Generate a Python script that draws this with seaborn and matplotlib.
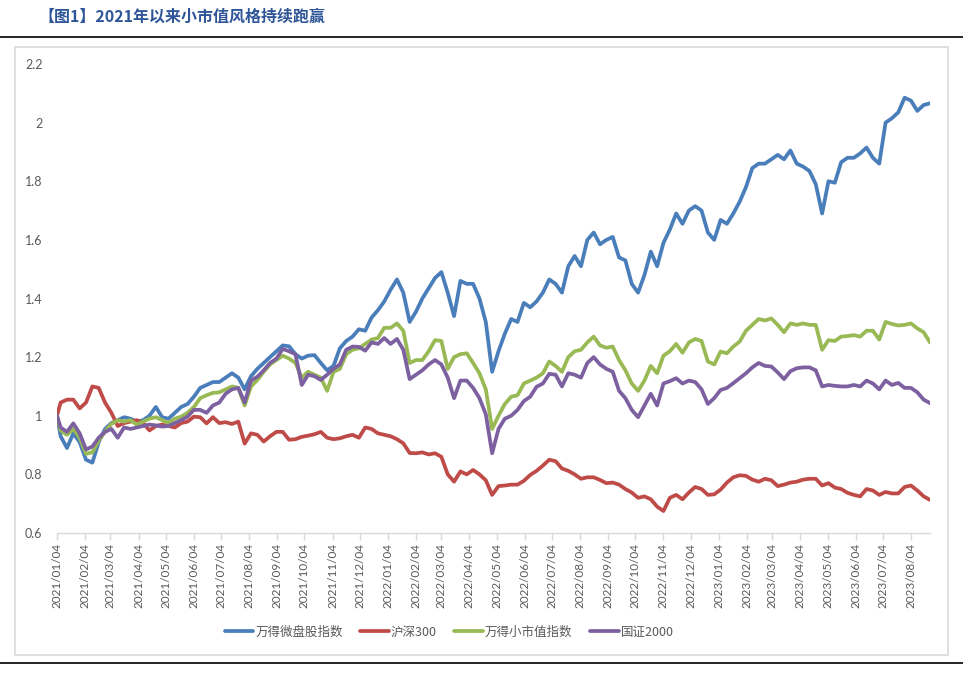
import numpy as np
import pandas as pd
import seaborn as sns
import matplotlib.pyplot as plt
import matplotlib.dates as mdates
from matplotlib.lines import Line2D
from matplotlib.patches import Rectangle
from matplotlib.ticker import FuncFormatter, MultipleLocator

# weekly closes (Fridays), normalised to 1 on 2021/01/04
start_date = pd.Timestamp("2021-01-04")
week_dates = pd.date_range("2021-01-08", "2023-08-25", freq="W-FRI")
dates = [start_date] + list(week_dates)

series_names = ["万得微盘股指数", "沪深300", "万得小市值指数", "国证2000"]
series_colors = ["#4A7EBB", "#BE4B48", "#98B954", "#7D60A0"]

weipan = [1.00,
          0.93, 0.89, 0.94, 0.91, 0.85, 0.84, 0.91, 0.955, 0.975, 0.985,
          0.995, 0.99, 0.98, 0.985, 1.0, 1.03, 0.995, 0.99, 1.01, 1.03,
          1.04, 1.065, 1.095, 1.105, 1.115, 1.115, 1.13, 1.145, 1.13, 1.09,
          1.135, 1.16, 1.18, 1.20, 1.22, 1.24, 1.237, 1.21, 1.195, 1.205,
          1.207, 1.18, 1.155, 1.17, 1.23, 1.255, 1.27, 1.295, 1.29, 1.335,
          1.36, 1.39, 1.43, 1.465, 1.42, 1.32, 1.355, 1.40, 1.435, 1.47,
          1.49, 1.42, 1.34, 1.46, 1.45, 1.45, 1.40, 1.32, 1.15, 1.22,
          1.28, 1.33, 1.32, 1.385, 1.37, 1.39, 1.42, 1.465, 1.45, 1.42,
          1.51, 1.545, 1.51, 1.60, 1.625, 1.585, 1.60, 1.61, 1.54, 1.53,
          1.45, 1.42, 1.48, 1.56, 1.51, 1.59, 1.635, 1.69, 1.655, 1.70,
          1.715, 1.70, 1.625, 1.60, 1.668, 1.655, 1.69, 1.73, 1.78, 1.845,
          1.86, 1.86, 1.875, 1.89, 1.875, 1.905, 1.86, 1.85, 1.835, 1.79,
          1.69, 1.80, 1.795, 1.865, 1.88, 1.88, 1.895, 1.915, 1.88, 1.86,
          2.00, 2.015, 2.035, 2.085, 2.075, 2.04, 2.06, 2.066]

hs300 = [1.00,
         1.045, 1.055, 1.055, 1.025, 1.045, 1.10, 1.095, 1.045, 1.01, 0.965,
         0.975, 0.98, 0.985, 0.975, 0.95, 0.965, 0.97, 0.965, 0.96, 0.975,
         0.98, 0.997, 0.995, 0.974, 0.995, 0.975, 0.978, 0.972, 0.98, 0.905,
         0.94, 0.935, 0.912, 0.93, 0.945, 0.945, 0.918, 0.92, 0.928, 0.932,
         0.937, 0.945, 0.925, 0.92, 0.923, 0.93, 0.935, 0.925, 0.96, 0.955,
         0.94, 0.935, 0.93, 0.92, 0.906, 0.873, 0.872, 0.875, 0.868, 0.872,
         0.86, 0.80, 0.775, 0.81, 0.80, 0.815, 0.80, 0.78, 0.73, 0.76,
         0.762, 0.765, 0.765, 0.778, 0.798, 0.812, 0.83, 0.85, 0.845, 0.82,
         0.812, 0.80, 0.785, 0.79, 0.79, 0.781, 0.77, 0.772, 0.765, 0.75,
         0.738, 0.72, 0.725, 0.715, 0.69, 0.675, 0.72, 0.73, 0.715, 0.738,
         0.757, 0.75, 0.73, 0.732, 0.748, 0.772, 0.79, 0.797, 0.795, 0.782,
         0.775, 0.785, 0.78, 0.76, 0.765, 0.772, 0.775, 0.782, 0.785, 0.785,
         0.762, 0.77, 0.755, 0.75, 0.737, 0.73, 0.725, 0.75, 0.745, 0.73,
         0.74, 0.735, 0.735, 0.757, 0.762, 0.745, 0.725, 0.713]

xiaoshizhi = [1.00,
              0.95, 0.935, 0.955, 0.925, 0.87, 0.875, 0.915, 0.946, 0.972, 0.985,
              0.98, 0.985, 0.97, 0.98, 0.99, 0.995, 0.985, 0.975, 0.99, 0.997,
              1.01, 1.03, 1.06, 1.07, 1.078, 1.08, 1.09, 1.10, 1.095, 1.035,
              1.10, 1.122, 1.15, 1.175, 1.19, 1.205, 1.195, 1.18, 1.13, 1.15,
              1.14, 1.13, 1.085, 1.15, 1.16, 1.21, 1.225, 1.23, 1.245, 1.26,
              1.265, 1.30, 1.30, 1.315, 1.29, 1.18, 1.19, 1.19, 1.22, 1.258,
              1.255, 1.16, 1.20, 1.21, 1.213, 1.18, 1.145, 1.09, 0.955, 1.00,
              1.04, 1.065, 1.07, 1.11, 1.12, 1.13, 1.145, 1.185, 1.17, 1.15,
              1.20, 1.22, 1.225, 1.25, 1.27, 1.24, 1.232, 1.236, 1.19, 1.155,
              1.11, 1.085, 1.12, 1.17, 1.145, 1.205, 1.22, 1.245, 1.215, 1.25,
              1.262, 1.255, 1.185, 1.175, 1.219, 1.213, 1.236, 1.253, 1.29, 1.31,
              1.33, 1.325, 1.332, 1.31, 1.285, 1.315, 1.31, 1.315, 1.31, 1.31,
              1.225, 1.258, 1.255, 1.27, 1.272, 1.275, 1.27, 1.29, 1.29, 1.26,
              1.32, 1.313, 1.308, 1.31, 1.315, 1.298, 1.285, 1.25]

gz2000 = [1.00,
          0.96, 0.945, 0.974, 0.94, 0.885, 0.895, 0.925, 0.945, 0.955, 0.925,
          0.96, 0.955, 0.96, 0.965, 0.97, 0.967, 0.963, 0.965, 0.975, 0.985,
          0.997, 1.02, 1.02, 1.01, 1.035, 1.045, 1.075, 1.09, 1.095, 1.045,
          1.12, 1.133, 1.155, 1.18, 1.195, 1.228, 1.22, 1.21, 1.105, 1.14,
          1.135, 1.122, 1.14, 1.16, 1.175, 1.225, 1.236, 1.235, 1.222, 1.25,
          1.245, 1.265, 1.245, 1.262, 1.225, 1.125, 1.14, 1.155, 1.175, 1.19,
          1.175, 1.13, 1.06, 1.12, 1.12, 1.095, 1.06, 1.005, 0.872, 0.955,
          0.99, 1.0, 1.02, 1.05, 1.065, 1.099, 1.11, 1.143, 1.14, 1.10,
          1.145, 1.14, 1.13, 1.18, 1.20, 1.175, 1.16, 1.15, 1.085, 1.06,
          1.02, 0.995, 1.035, 1.075, 1.035, 1.11, 1.118, 1.128, 1.11, 1.12,
          1.115, 1.09, 1.04, 1.06, 1.088, 1.095, 1.111, 1.128, 1.145, 1.165,
          1.18, 1.17, 1.168, 1.148, 1.125, 1.152, 1.162, 1.165, 1.165, 1.155,
          1.10, 1.105, 1.102, 1.10, 1.10, 1.105, 1.10, 1.12, 1.11, 1.09,
          1.12, 1.105, 1.112, 1.095, 1.095, 1.08, 1.055, 1.043]

frames = []
for name, vals in zip(series_names, [weipan, hs300, xiaoshizhi, gz2000]):
    frames.append(pd.DataFrame({"date": dates, "value": vals, "series": name}))
df = pd.concat(frames, ignore_index=True)

sns.set_style("white")
plt.rcParams["font.family"] = ["Lato", "Noto Sans CJK SC", "DejaVu Sans"]

fig = plt.figure(figsize=(9.63, 6.75), dpi=100)
W, H = 963, 675

# frame lines and chart border
fig.add_artist(Line2D([0, 1], [1 - 37 / H, 1 - 37 / H], color="black", lw=1.2, transform=fig.transFigure))
fig.add_artist(Line2D([0, 1], [1 - 663 / H, 1 - 663 / H], color="black", lw=1.2, transform=fig.transFigure))
fig.add_artist(Rectangle((15 / W, 1 - 655 / H), (948 - 15) / W, (655 - 47) / H, fill=False,
                         edgecolor="#D9D9D9", lw=1.2, transform=fig.transFigure))
fig.text(38 / W, 1 - 17 / H, "【图1】2021年以来小市值风格持续跑赢", color="#2E5597", fontsize=11.5,
         fontweight="bold", va="center", ha="left", family=["Noto Sans CJK SC", "DejaVu Sans"])

ax = fig.add_axes([57 / W, 1 - 533 / H, (930 - 57) / W, (533 - 64) / H])
sns.lineplot(data=df, x="date", y="value", hue="series", hue_order=series_names,
             palette=dict(zip(series_names, series_colors)), linewidth=2.7, ax=ax)

ax.set_xlim(pd.Timestamp("2021-01-04"), pd.Timestamp("2023-08-25"))
ax.set_ylim(0.6, 2.2)
ax.yaxis.set_major_locator(MultipleLocator(0.2))
ax.yaxis.set_major_formatter(FuncFormatter(lambda v, p: f"{v:g}"))
ax.xaxis.set_major_locator(mdates.MonthLocator(bymonthday=4))
ax.xaxis.set_major_formatter(mdates.DateFormatter("%Y/%m/%d"))
ax.set_xlabel("")
ax.set_ylabel("")
for s in ["top", "right", "left"]:
    ax.spines[s].set_visible(False)
ax.spines["bottom"].set_color("#D9D9D9")
ax.spines["bottom"].set_linewidth(1)
ax.tick_params(axis="x", which="major", bottom=True, length=5, width=1, color="#D9D9D9",
               labelrotation=90, labelsize=8.5, labelcolor="#595959", pad=2)
ax.tick_params(axis="y", left=False, labelsize=9, labelcolor="#595959", pad=7)

handles, labels = ax.get_legend_handles_labels()
ax.legend(handles, labels, loc="center", bbox_to_anchor=(449 / W, 1 - 632 / H),
          bbox_transform=fig.transFigure, ncol=4, frameon=False, handlelength=2.3,
          handletextpad=0.15, columnspacing=1.4, labelcolor="#595959",
          prop={"family": ["Noto Sans CJK SC", "DejaVu Sans"], "size": 9})

fig.savefig("out.png", dpi=100)
